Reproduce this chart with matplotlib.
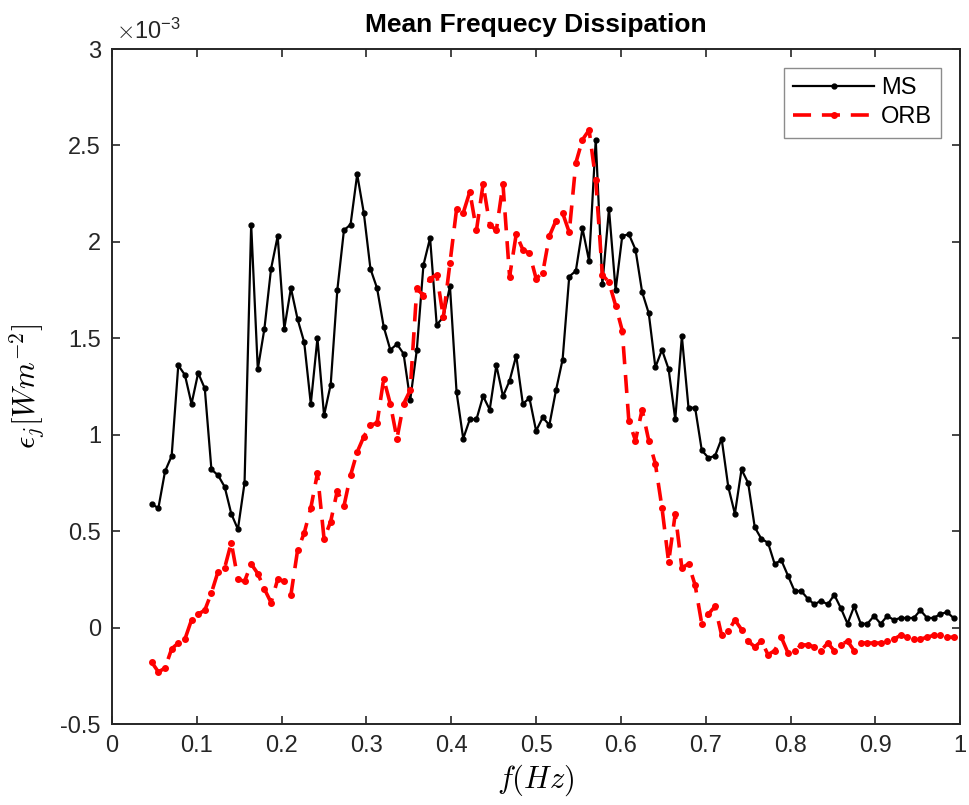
import numpy as np
import matplotlib
matplotlib.use("Agg")
from matplotlib import pyplot as plt
from matplotlib.ticker import FuncFormatter

plt.rcParams['font.family'] = ['Liberation Sans', 'DejaVu Sans']
plt.rcParams['mathtext.fontset'] = 'cm'

# frequency grid (bins k/128, k = 6..127)
freq = np.arange(6, 128) / 128

# mean dissipation, units of 1e-3 W m^-2
ms = [0.64, 0.62, 0.81, 0.89, 1.36, 1.31, 1.16, 1.32, 1.24, 0.82,
      0.79, 0.73, 0.59, 0.51, 0.75, 2.09, 1.34, 1.55, 1.86, 2.03,
      1.55, 1.76, 1.60, 1.48, 1.16, 1.50, 1.10, 1.26, 1.75, 2.06,
      2.09, 2.35, 2.15, 1.86, 1.76, 1.56, 1.44, 1.47, 1.42, 1.18,
      1.44, 1.88, 2.02, 1.57, 1.61, 1.77, 1.22, 0.98, 1.08, 1.08,
      1.20, 1.13, 1.36, 1.20, 1.28, 1.41, 1.16, 1.19, 1.02, 1.09,
      1.05, 1.23, 1.39, 1.82, 1.85, 2.07, 1.90, 2.53, 1.78, 2.17,
      1.75, 2.03, 2.04, 1.96, 1.74, 1.63, 1.35, 1.44, 1.34, 1.08,
      1.51, 1.14, 1.14, 0.92, 0.88, 0.89, 0.98, 0.73, 0.59, 0.82,
      0.75, 0.52, 0.46, 0.44, 0.33, 0.35, 0.27, 0.19, 0.19, 0.15,
      0.12, 0.14, 0.12, 0.17, 0.10, 0.02, 0.11, 0.02, 0.02, 0.06,
      0.02, 0.06, 0.04, 0.05, 0.05, 0.05, 0.09, 0.05, 0.05, 0.07,
      0.08, 0.05]

orb = [-0.18, -0.23, -0.21, -0.11, -0.08, -0.06, 0.04, 0.07, 0.09, 0.18,
       0.29, 0.31, 0.44, 0.25, 0.24, 0.33, 0.28, 0.20, 0.13, 0.25,
       0.24, 0.17, 0.40, 0.49, 0.62, 0.80, 0.46, 0.55, 0.71, 0.63,
       0.79, 0.91, 0.99, 1.05, 1.06, 1.29, 1.16, 0.98, 1.16, 1.23,
       1.76, 1.72, 1.81, 1.83, 1.61, 1.89, 2.17, 2.15, 2.26, 2.06,
       2.30, 2.09, 2.06, 2.30, 1.82, 2.04, 1.96, 1.94, 1.81, 1.84,
       2.03, 2.11, 2.15, 2.05, 2.41, 2.53, 2.58, 2.32, 1.83, 1.79,
       1.67, 1.54, 1.07, 0.97, 1.13, 0.97, 0.85, 0.62, 0.34, 0.59,
       0.31, 0.33, 0.22, 0.02, 0.07, 0.11, -0.04, -0.02, 0.04, -0.01,
       -0.07, -0.10, -0.07, -0.14, -0.12, -0.05, -0.13, -0.12, -0.09, -0.09,
       -0.10, -0.12, -0.08, -0.12, -0.09, -0.07, -0.12, -0.08, -0.08, -0.08,
       -0.08, -0.07, -0.06, -0.04, -0.05, -0.06, -0.06, -0.05, -0.04, -0.04,
       -0.05, -0.05]

xticks = np.arange(0, 1.01, 0.1)
yticks = np.arange(-0.5, 3.01, 0.5) * 1e-3

fig = plt.figure(figsize=(9.69, 8.05), dpi=100)
ax = fig.add_axes([0.1156, 0.1006, 0.8753, 0.8385])

ax.plot(freq, np.array(ms) * 1e-3, '-', color='k', lw=1.6,
        marker='.', ms=7, label='MS')
ax.plot(freq, np.array(orb) * 1e-3, '--', color='r', lw=2.6,
        marker='.', ms=8, dashes=(5, 3), label='ORB')

ax.set_xlim(0, 1)
ax.set_ylim(-0.5e-3, 3e-3)
ax.set_xticks(xticks)
ax.set_yticks(yticks)
ax.xaxis.set_major_formatter(FuncFormatter(lambda v, p: '%g' % round(v, 3)))
ax.yaxis.set_major_formatter(FuncFormatter(lambda v, p: '%g' % round(v * 1e3, 3)))
ax.tick_params(direction='in', length=6, width=1.2, top=True, right=True,
               labelsize=17, colors='#262626', pad=8)
for s in ax.spines.values():
    s.set_linewidth(1.4)
    s.set_color('#262626')

ax.text(0.005, 1.008, r'$\times\mathdefault{10^{-3}}$', transform=ax.transAxes,
        ha='left', va='bottom', fontsize=17, color='#262626')

ax.set_title('Mean Frequecy Dissipation', fontsize=19, fontweight='bold', pad=12)
ax.set_xlabel(r'$f(Hz)$', fontsize=22, labelpad=4)
ax.set_ylabel(r'$\epsilon_j[Wm^{-2}]$', fontsize=22, labelpad=10)

leg = ax.legend(loc='upper right', fontsize=17, handlelength=3.4,
                handletextpad=0.3, fancybox=False, framealpha=1,
                edgecolor='#8c8c8c', borderaxespad=0.8, borderpad=0.4,
                labelspacing=0.3)
leg.get_frame().set_linewidth(1.0)

fig.savefig('out.png', dpi=100)
